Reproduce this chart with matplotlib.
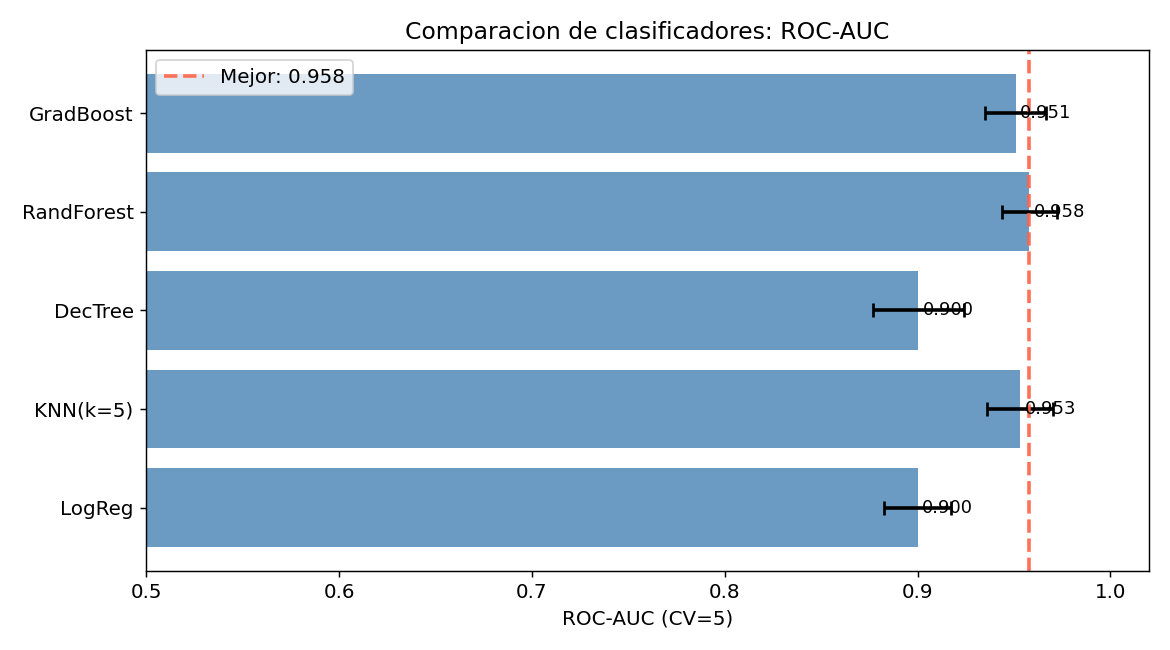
import matplotlib
matplotlib.use("Agg")
import matplotlib.pyplot as plt
import numpy as np

plt.rcParams["font.size"] = 11

models = ["LogReg", "KNN(k=5)", "DecTree", "RandForest", "GradBoost"]
means = [0.9000, 0.9532, 0.9004, 0.9580, 0.9508]
stds = [0.0176, 0.0170, 0.0235, 0.0143, 0.0158]
best = max(means)

fig, ax = plt.subplots(figsize=(9, 5), dpi=130)
y = np.arange(len(models))
ax.barh(y, means, xerr=stds, color="steelblue", alpha=0.8, capsize=4,
        error_kw=dict(lw=2, ecolor="black", capthick=1.5))
ax.axvline(best, color="tomato", ls="--", lw=2, alpha=0.9, label=f"Mejor: {best:.3f}")
for yi, m in zip(y, means):
    ax.text(m + 0.0025, yi, f"{m:.3f}", va="center", fontsize=10)
ax.set_yticks(y)
ax.set_yticklabels(models)
ax.set_xlim(0.5, 1.02)
ax.set_xlabel("ROC-AUC (CV=5)")
ax.set_title("Comparacion de clasificadores: ROC-AUC", fontsize=13)
ax.legend(loc="upper left")
fig.subplots_adjust(left=0.125, right=0.982, top=0.923, bottom=0.122)
fig.savefig("out.png")
